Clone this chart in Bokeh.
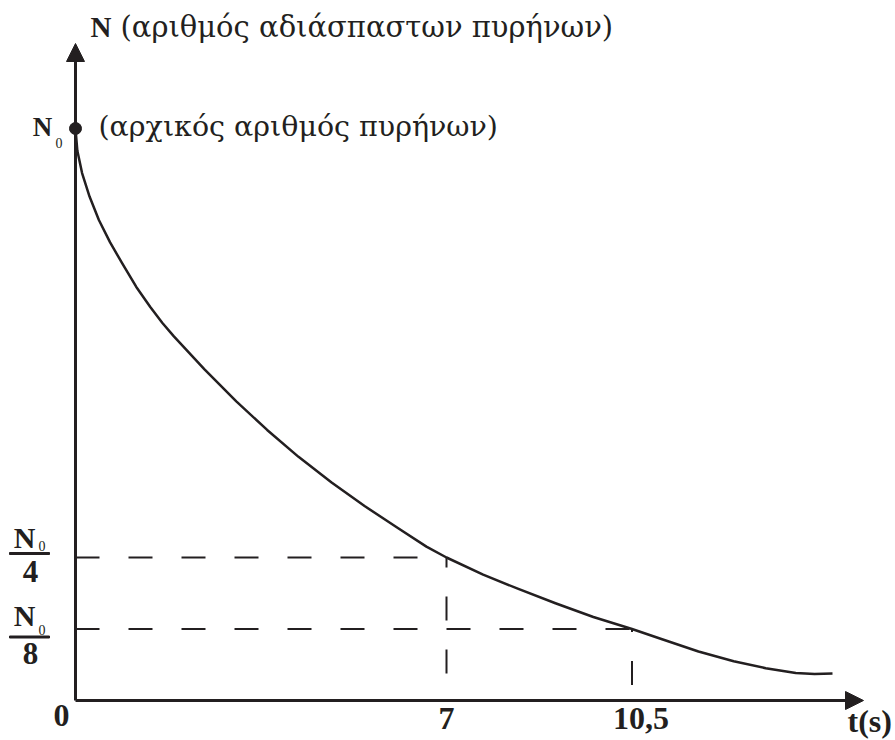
from bokeh.plotting import figure
from bokeh.models import Range1d, Arrow, NormalHead
from bokeh.core.properties import value
from bokeh.embed import file_html
from bokeh.resources import INLINE

# ---------------- data ----------------
t_values = [0.0, 0.035, 0.124, 0.265, 0.441, 0.653, 0.882, 1.147, 1.411, 1.640,
            1.852, 2.434, 3.034, 3.616, 4.208, 4.832, 5.454, 6.089, 6.621, 7.0,
            7.691, 8.356, 9.056, 9.771, 10.5, 11.068, 11.754, 12.419, 13.024,
            13.590, 13.945, 14.283]
N_values = [1.0, 0.961, 0.922, 0.881, 0.840, 0.801, 0.764, 0.723, 0.688, 0.660,
            0.637, 0.579, 0.523, 0.473, 0.426, 0.381, 0.340, 0.301, 0.269, 0.25,
            0.220, 0.195, 0.170, 0.146, 0.125, 0.107, 0.0856, 0.0685, 0.0565,
            0.0479, 0.0462, 0.0471]
half_times = [7, 10.5]            # t positions of the marked points
fraction_levels = [0.25, 0.125]   # N0/4, N0/8 (in units of N0)
x_tick_labels = ["7", "10,5"]
denominators = ["4", "8"]
N0_level = 1.0
y_title_main = "N"
y_title_desc = "(αριθμός αδιάσπαστων πυρήνων)"
n0_desc = "(αρχικός αριθμός πυρήνων)"
x_title = "t(s)"
origin_label = "0"

# ---------------- layout ----------------
INK = "#231f20"
FONT = value("Liberation Serif")
GREEK_FONT = value("DejaVu Serif")
W, H = 895, 740
PX_PER_S = 53.0
PX_PER_N = 572.0
OX, OY = 75, 700          # origin inside the canvas (pixels)


def dx(px):
    return px / PX_PER_S


def dy(px):
    return px / PX_PER_N


p = figure(width=W, height=H,
           x_range=Range1d(-dx(OX), dx(W - OX)),
           y_range=Range1d(-dy(H - OY), dy(OY)),
           output_backend="svg", toolbar_location=None, min_border=0,
           x_axis_location=None, y_axis_location=None)
p.outline_line_color = None
p.background_fill_color = "white"
p.border_fill_color = "white"
for g in p.grid:
    g.visible = False

t_end = dx(788)     # arrow tip of the time axis
n_end = dy(657)     # arrow tip of the N axis

# dashed guide lines
p.segment(x0=[0] * len(half_times), y0=fraction_levels, x1=half_times, y1=fraction_levels,
          line_color=INK, line_width=2, line_dash="24 29")
p.segment(x0=[half_times[0]], y0=[fraction_levels[0]], x1=[half_times[0]], y1=[0],
          line_color=INK, line_width=2, line_dash="24 29", line_dash_offset=14)
p.segment(x0=[half_times[1]], y0=[fraction_levels[1]], x1=[half_times[1]], y1=[0],
          line_color=INK, line_width=2, line_dash="24 29", line_dash_offset=21)

# decay curve
p.line(t_values, N_values, line_color=INK, line_width=2.5, line_join="round")

# axes with arrow heads
p.add_layout(Arrow(x_start=0, y_start=0, x_end=t_end, y_end=0, line_color=INK, line_width=3,
                   end=NormalHead(size=18, fill_color=INK, line_color=INK, line_width=1)))
p.add_layout(Arrow(x_start=0, y_start=0, x_end=0, y_end=n_end, line_color=INK, line_width=3,
                   end=NormalHead(size=18, fill_color=INK, line_color=INK, line_width=1)))

# N0 dot
p.scatter(x=[0], y=[N0_level], size=12, color=INK)


def txt(x, y, s, size, bold=False, align="center", xo=0, yo=0, font=FONT):
    # yo = wanted baseline offset (px, downwards); compensate renderer's baseline shift
    p.text(x=[x], y=[y], text=[s], text_font=font, text_font_size=f"{size}px",
           text_font_style="bold" if bold else "normal", text_align=align,
           text_baseline="alphabetic", x_offset=xo, y_offset=yo - 0.38 * size,
           text_color=INK)


# axis titles
txt(0, n_end, y_title_main, 29, bold=True, align="left", xo=15, yo=-5)
txt(0, n_end, y_title_desc, 29, align="left", xo=45, yo=-5, font=GREEK_FONT)
txt(t_end, 0, x_title, 32, bold=True, align="left", xo=-16, yo=33)
txt(0, 0, origin_label, 32, bold=True, xo=-14, yo=27)

# x tick labels
txt(half_times[0], 0, x_tick_labels[0], 32, bold=True, xo=0, yo=30)
txt(half_times[1], 0, x_tick_labels[1], 32, bold=True, xo=9, yo=30)

# N0 label
txt(0, N0_level, "N", 27, bold=True, xo=-33, yo=9)
txt(0, N0_level, "0", 14, align="left", xo=-20, yo=20)
txt(0, N0_level, n0_desc, 28.5, align="left", xo=23, yo=9, font=GREEK_FONT)

# fraction labels N0/4 and N0/8
frac_offsets = [(-9, -6, 4, 26), (-2, 6, -8, 36)]  # N baseline, sub baseline, bar, denominator
for lvl, den, (nb, sb, bar, db) in zip(fraction_levels, denominators, frac_offsets):
    txt(0, lvl, "N", 30, bold=True, xo=-51, yo=nb)
    txt(0, lvl, "0", 14, align="left", xo=-37, yo=sb)
    txt(0, lvl, den, 31, bold=True, xo=-45, yo=db)
    p.rect(x=[dx(-46)], y=[lvl + dy(bar)], width=40, height=2,
           width_units="screen", height_units="screen", color=INK)

open("out.html", "w").write(file_html(p, INLINE))
